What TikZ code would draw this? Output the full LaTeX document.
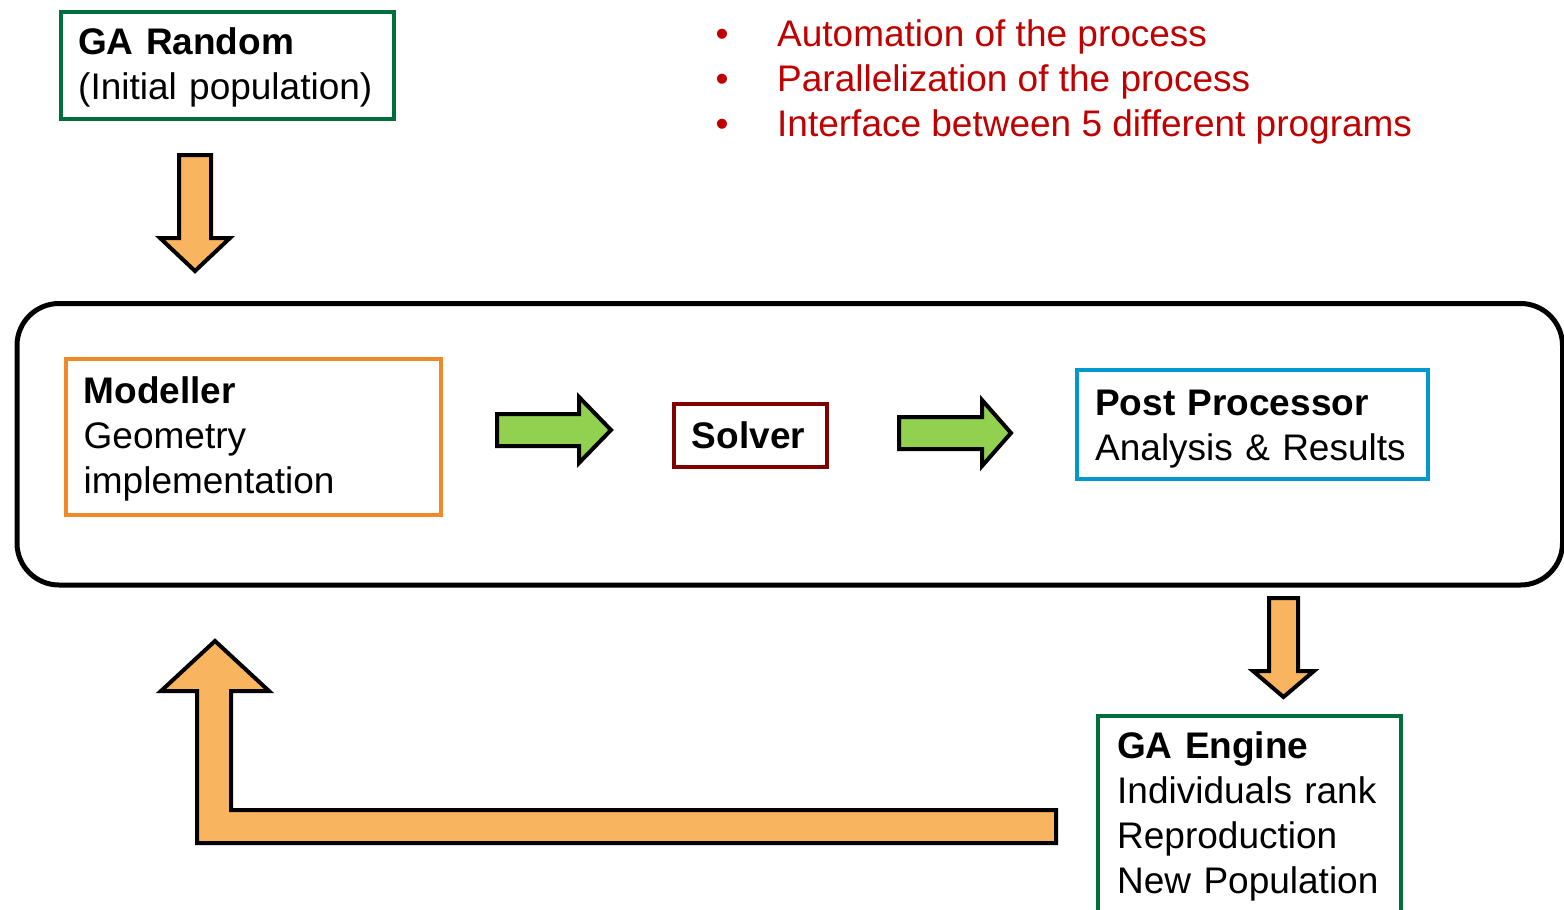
\documentclass[tikz,border=0pt]{standalone}
\usepackage{fontspec}
\setmainfont{Liberation Sans}
\definecolor{boxgreen}{RGB}{0,110,60}
\definecolor{boxorange}{RGB}{240,138,40}
\definecolor{boxred}{RGB}{128,0,0}
\definecolor{boxblue}{RGB}{0,153,204}
\definecolor{notered}{RGB}{192,0,0}
\definecolor{arroworange}{RGB}{249,180,95}
\definecolor{arrowgreen}{RGB}{146,208,80}
\tikzset{
  txt/.style={font=\fontsize{37}{45}\selectfont, inner sep=0pt, anchor=base west,
    text width=420pt, align=left},
  stage/.style={draw, line width=4pt, inner sep=0pt, anchor=north west},
  frame/.style={draw=black, line width=5pt, rounded corners=42pt, inner sep=0pt,
    anchor=north west},
  blockarrow/.style={draw=black, line width=4pt, line join=miter},
  note/.style={font=\fontsize{37}{45}\selectfont, text=notered, inner sep=0pt},
}
\begin{document}
\begin{tikzpicture}[x=1pt, y=-1pt]
\useasboundingbox (0,0) rectangle (1564,910);

% process loop frame
\node[frame, minimum width=1545.5pt, minimum height=281.5pt] (loop) at (14.5,301) {};

% stage boxes
\node[stage, draw=boxgreen, minimum width=333pt, minimum height=107pt] (garandom) at (59,10) {};
\node[stage, draw=boxorange, minimum width=375pt, minimum height=156pt] (modeller) at (64,357) {};
\node[stage, draw=boxred, minimum width=153pt, minimum height=63pt] (solver) at (672,402) {};
\node[stage, draw=boxblue, minimum width=351pt, minimum height=109pt] (post) at (1075,368) {};
\node[stage, draw=boxgreen, minimum width=303pt, minimum height=230pt] (engine) at (1096,714) {};

% box texts
\node[txt] (garandomtext) at (78,54.5) {\textbf{GA Random}\\(Initial population)};
\node[txt] (modellertext) at (83.5,403) {\textbf{Modeller}\\Geometry\\implementation};
\node[font=\fontsize{37}{45}\selectfont, inner sep=0pt, anchor=base] (solvertext)
  at (748.5,448) {\textbf{Solver}};
\node[txt] (posttext) at (1095,415) {\textbf{Post Processor}\\Analysis \& Results};
\node[txt] (enginetext) at (1117,758) {\textbf{GA Engine}\\Individuals rank\\Reproduction\\New Population};

% red notes
\node[note, anchor=base] (bulletA) at (722,46.7) {•};
\node[note, anchor=base] (bulletB) at (722,91.7) {•};
\node[note, anchor=base] (bulletC) at (722,136.7) {•};
\node[note, anchor=base west] (noteA) at (777,46.7) {Automation of the process};
\node[note, anchor=base west] (noteB) at (777,91.7) {Parallelization of the process};
\node[note, anchor=base west] (noteC) at (777,136.7) {Interface between 5 different programs};

% block arrows
\draw[blockarrow, fill=arroworange]
  (179,155) -- (211,155) -- (211,238) -- (230,238) -- (195,271) -- (160,238) -- (179,238) -- cycle;
\draw[blockarrow, fill=arroworange]
  (1269,598) -- (1298,598) -- (1298,671) -- (1314,671) -- (1283.5,697) -- (1253,671) -- (1269,671) -- cycle;
\draw[blockarrow, fill=arrowgreen]
  (497,414) -- (579,414) -- (579,397) -- (611,430) -- (579,463) -- (579,446) -- (497,446) -- cycle;
\draw[blockarrow, fill=arrowgreen]
  (899,417) -- (982,417) -- (982,400) -- (1011,433) -- (982,466) -- (982,449) -- (899,449) -- cycle;
\draw[blockarrow, fill=arroworange]
  (1056,810) -- (231,810) -- (231,691) -- (269,691) -- (215,641) -- (161,691) -- (197,691)
  -- (197,843) -- (1056,843) -- cycle;
\end{tikzpicture}
\end{document}
